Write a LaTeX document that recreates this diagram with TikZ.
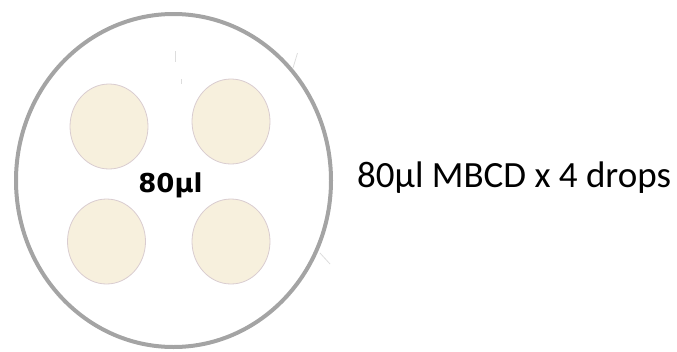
\documentclass[tikz,border=0pt]{standalone}
\usepackage{fontspec}
\setmainfont{Carlito}
\newfontfamily\labelfont{DejaVu Sans Bold}
\definecolor{dishring}{HTML}{A4A4A4}
\definecolor{dropfill}{HTML}{F7F0DD}
\definecolor{dropline}{HTML}{D9CCD0}
\definecolor{faint}{HTML}{DDDDDD}
\begin{document}
\begin{tikzpicture}[x=1pt,y=-1pt,
  dish/.style={draw=dishring, line width=4pt},
  drop/.style={draw=dropline, line width=0.8pt, fill=dropfill},
  scratch/.style={draw=faint, line width=0.8pt}]
  \useasboundingbox (0,0) rectangle (677,351);
  % dish outline
  \draw[dish] (173.5,180.5) ellipse [x radius=157.5, y radius=166.5];
  % four drops
  \path[drop] (109,126.5) ellipse [x radius=39, y radius=42.5];
  \path[drop] (231,121.5) ellipse [x radius=39, y radius=42.5];
  \path[drop] (106.5,241.5) ellipse [x radius=39, y radius=42.5];
  \path[drop] (231,241.5) ellipse [x radius=39, y radius=42.5];
  % light scratches on the dish
  \draw[scratch] (175,51) -- (175,62);
  \draw[scratch] (181.5,79) -- (181.5,84);
  \draw[scratch] (297.5,53) -- (293,68);
  \draw[scratch] (320,253) -- (330,264);
  % labels
  \node[font=\labelfont\fontsize{26}{30}\selectfont, inner sep=0pt] (vol) at (170.5,185) {80µl};
  \node[font=\fontsize{37}{44}\selectfont, anchor=west, inner sep=0pt] (desc) at (357,178) {80µl MBCD x 4 drops};
\end{tikzpicture}
\end{document}
